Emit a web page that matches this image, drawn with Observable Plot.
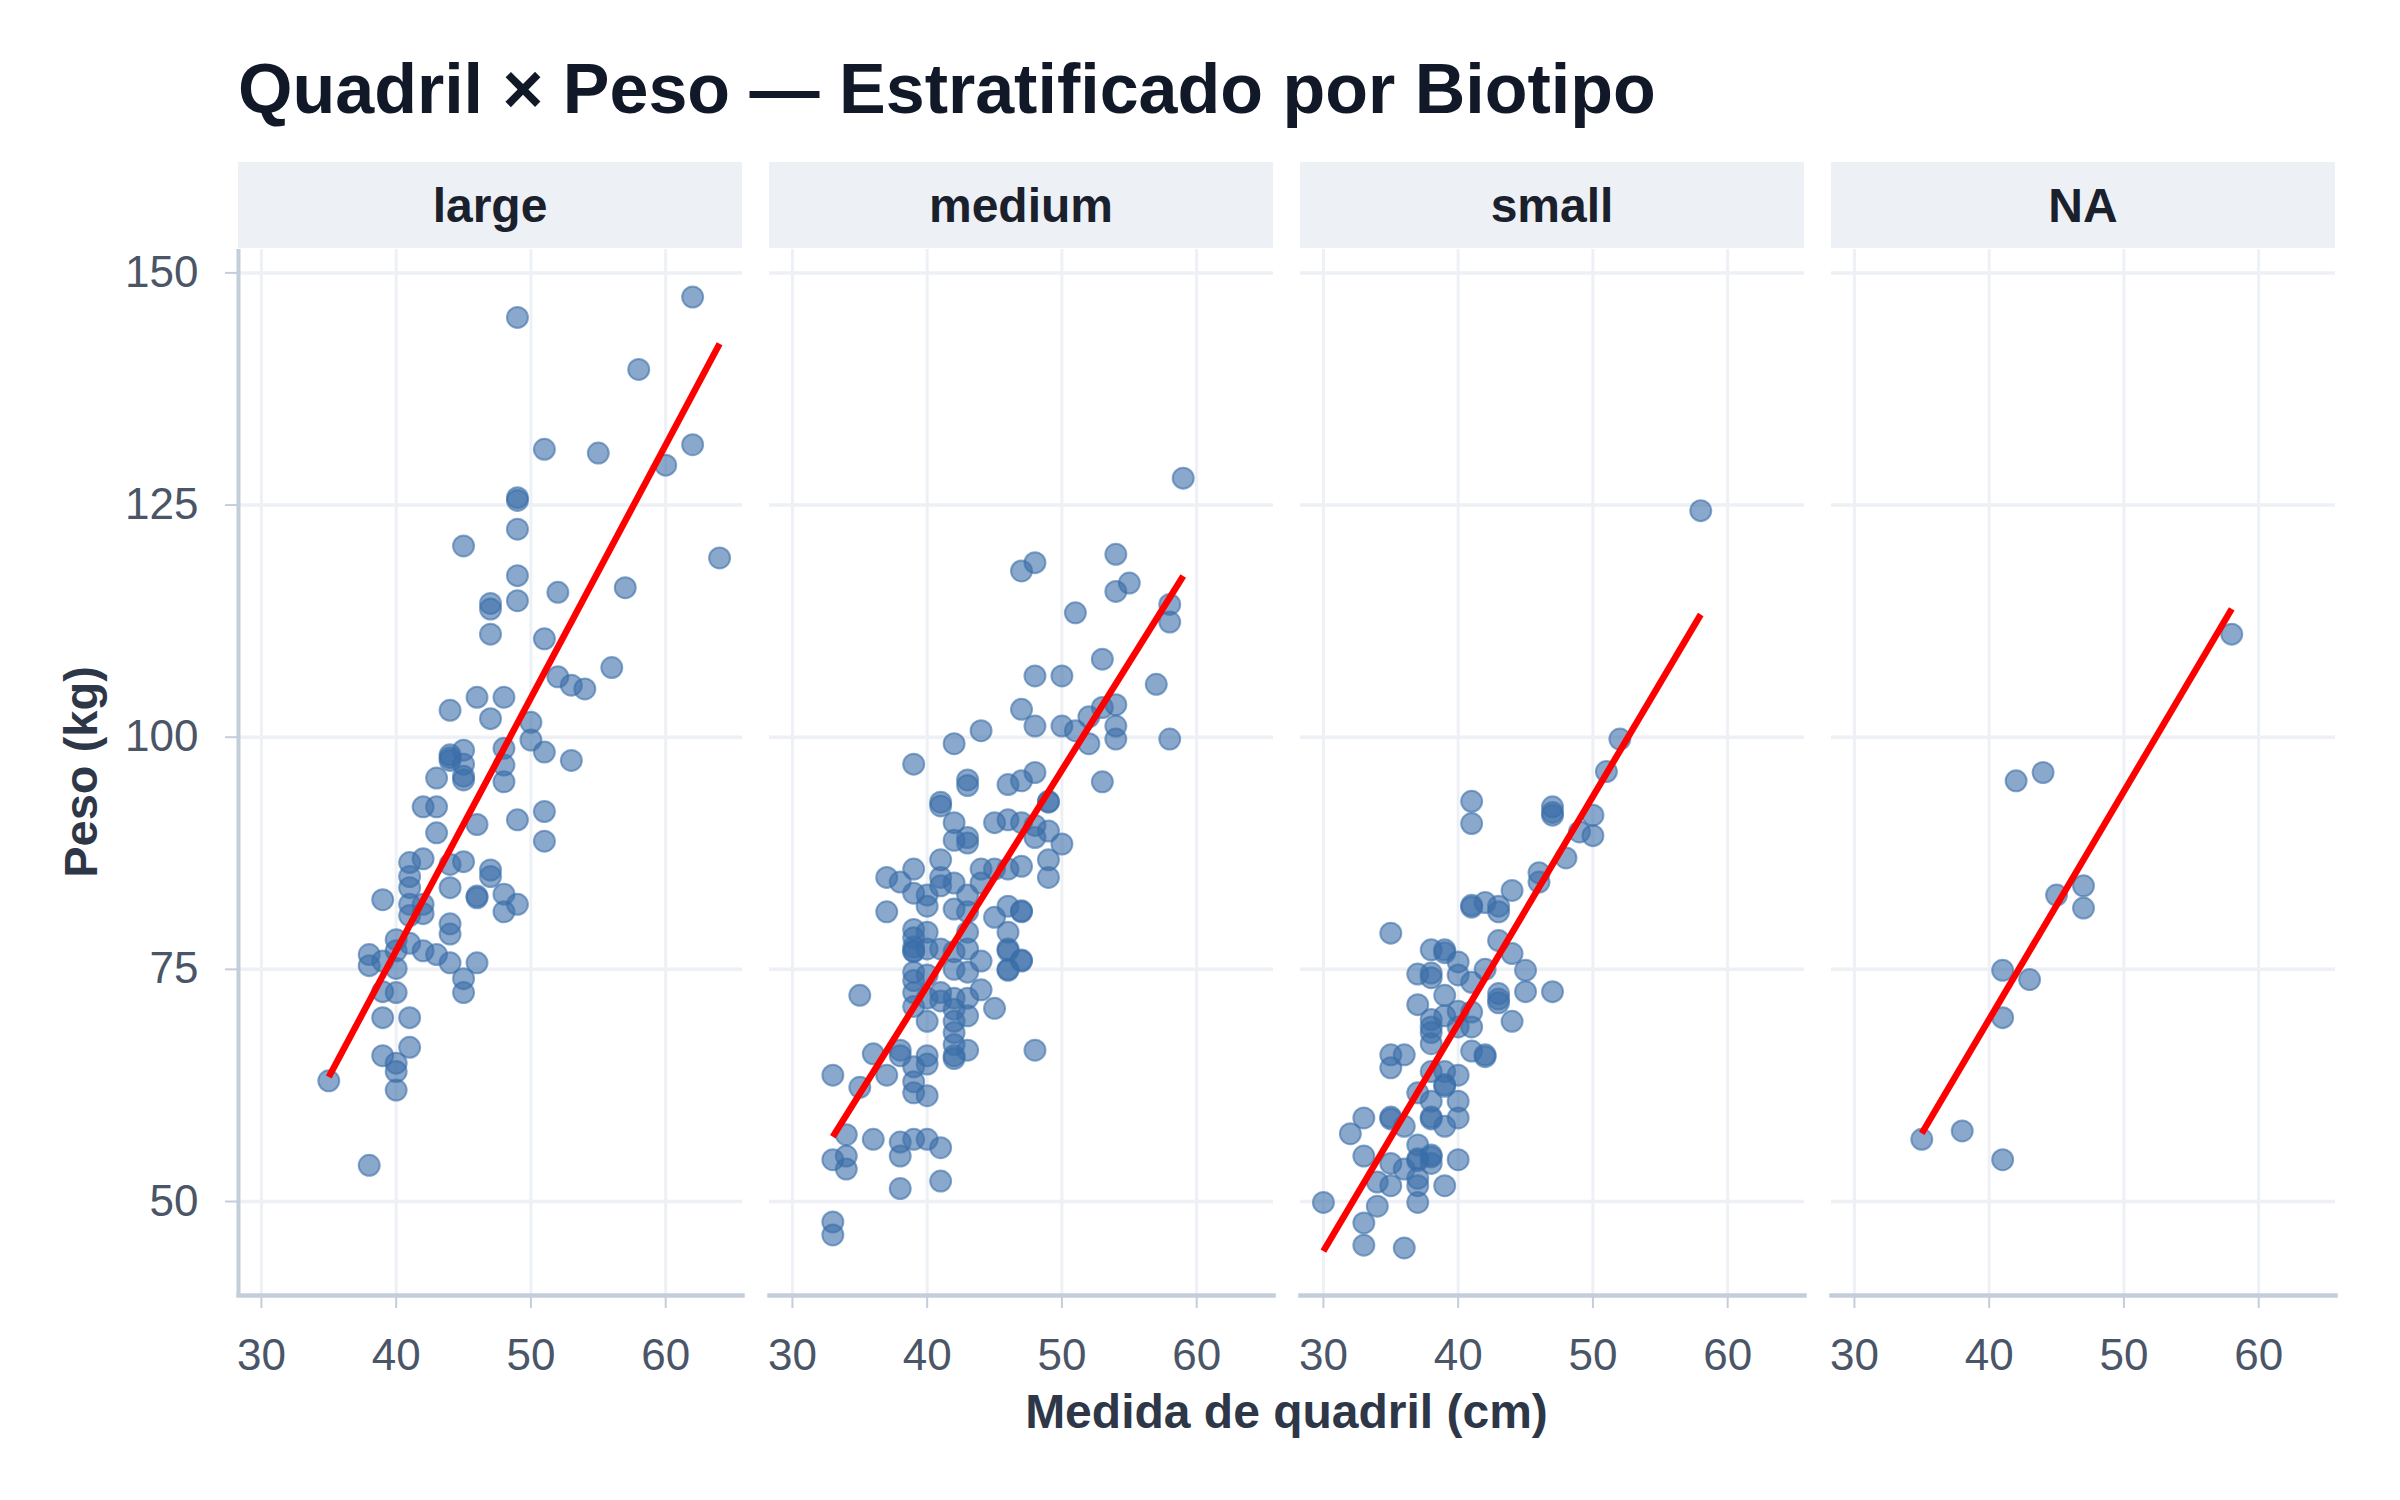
<!DOCTYPE html>
<html>
<head>
<meta charset="utf-8">
<script src="https://cdn.jsdelivr.net/npm/d3@7"></script>
<script src="https://cdn.jsdelivr.net/npm/@observablehq/plot@0.6"></script>
<style>
  html, body { margin: 0; padding: 0; background: #ffffff; }
  #chart { position: relative; width: 2400px; height: 1500px; }
</style>
</head>
<body>
<div id="chart"></div>
<script>
// ---- Data: [hip (cm), weight (kg)] per biotype ----
const groups = ["large", "medium", "small", "NA"];
const xTicks = [30, 40, 50, 60];
const yTicks = [50, 75, 100, 125, 150];

const large = [
  [49,145.2],[62,147.4],[58,139.6],[51,131.0],[55,130.6],[62,131.5],[60,129.3],[49,125.8],[49,125.5],[49,122.4],
  [45,120.6],[64,119.3],[49,117.4],[49,114.7],[47,114.4],[47,113.8],[47,111.1],[52,115.6],[57,116.1],[51,110.6],
  [56,107.5],[52,106.5],[53,105.6],[54,105.2],[44,102.9],[46,104.3],[48,104.3],[47,102.0],[50,101.6],[50,99.7],
  [51,98.4],[53,97.5],[48,98.8],[48,97.0],[48,95.2],[44,97.8],[44,98.1],[44,97.5],[45,98.6],[45,97.1],
  [45,95.8],[45,95.4],[43,95.6],[42,92.5],[43,92.5],[43,89.7],[46,90.6],[49,91.1],[51,92.0],[51,88.8],
  [41,86.5],[42,86.9],[44,86.3],[45,86.6],[47,85.7],[47,85.0],[41,85.0],[41,83.8],[44,83.8],[46,82.7],
  [46,82.9],[48,83.1],[49,82.0],[48,81.2],[39,82.5],[41,82.0],[42,82.0],[41,80.8],[42,81.0],[44,79.9],
  [44,78.8],[40,78.2],[41,77.8],[40,77.0],[42,77.0],[43,76.6],[38,76.6],[38,75.4],[39,75.9],[40,75.1],
  [44,75.7],[46,75.7],[45,74.0],[45,72.5],[39,72.6],[40,72.5],[39,69.8],[41,69.8],[41,66.6],[39,65.7],
  [40,64.9],[40,64.0],[40,62.0],[35,63.0],[38,53.9]
];

const medium = [
  [59,127.9],[47,117.9],[48,118.8],[54,119.7],[54,115.7],[55,116.6],[51,113.4],[58,114.3],[58,112.4],[53,108.4],
  [48,106.6],[50,106.6],[57,105.7],[47,103.0],[48,101.2],[50,101.2],[51,100.7],[52,102.2],[53,103.2],[54,103.5],
  [54,101.2],[54,99.8],[52,99.3],[58,99.8],[44,100.7],[42,99.3],[39,97.1],[53,95.2],[48,96.2],[47,95.3],
  [46,94.9],[43,95.4],[43,94.8],[41,93.0],[41,92.6],[49,93.1],[49,93.0],[42,90.8],[45,90.8],[46,91.1],
  [47,90.8],[48,90.5],[49,89.9],[50,88.5],[48,89.2],[43,89.2],[43,88.6],[42,88.9],[41,86.8],[37,84.9],
  [38,84.4],[39,85.8],[39,83.2],[41,84.9],[41,84.0],[42,84.3],[40,83.0],[40,81.8],[37,81.2],[42,81.5],
  [43,83.0],[44,85.8],[44,84.3],[45,85.8],[45,80.6],[46,85.8],[46,81.8],[47,86.1],[47,81.2],[47,81.3],
  [49,86.8],[49,84.9],[43,81.2],[43,79.0],[46,79.0],[39,79.3],[39,78.4],[39,77.4],[39,77.0],[39,76.9],
  [40,79.0],[40,77.2],[41,77.2],[42,76.9],[43,77.2],[46,77.2],[46,77.0],[47,75.9],[47,76.0],[46,75.0],
  [46,74.9],[44,75.9],[42,75.0],[43,74.7],[39,74.7],[39,73.8],[39,72.5],[39,71.0],[40,74.4],[40,71.9],
  [40,69.4],[41,72.5],[41,71.6],[42,71.9],[42,70.7],[42,69.4],[42,68.2],[42,66.9],[42,65.7],[42,65.4],
  [43,71.9],[43,70.0],[44,72.8],[45,70.8],[43,66.3],[48,66.3],[35,72.2],[36,65.9],[38,66.3],[38,65.7],
  [39,64.5],[39,62.9],[39,61.7],[40,65.7],[40,64.8],[40,61.4],[37,63.6],[35,62.3],[33,63.6],[34,57.2],
  [36,56.7],[38,56.4],[39,56.7],[40,56.7],[41,55.8],[33,54.5],[34,54.9],[34,53.5],[38,54.9],[38,51.4],
  [41,52.2],[33,47.8],[33,46.4]
];

const small = [
  [58,124.4],[52,99.8],[51,96.3],[41,93.1],[41,90.7],[47,92.5],[47,91.9],[47,91.6],[50,91.6],[49,89.8],
  [50,89.4],[48,87.0],[46,85.4],[46,84.4],[44,83.5],[41,81.9],[41,81.7],[42,82.2],[43,81.8],[43,81.2],
  [35,78.9],[43,78.1],[44,76.7],[38,77.1],[39,77.1],[39,76.8],[40,75.8],[42,75.0],[45,74.9],[37,74.5],
  [38,74.6],[38,74.1],[40,74.4],[41,73.6],[39,72.2],[43,72.4],[43,71.8],[43,71.4],[45,72.6],[47,72.6],
  [37,71.2],[44,69.4],[38,69.6],[38,68.8],[38,68.2],[38,67.0],[39,70.0],[40,70.5],[40,68.8],[41,70.4],
  [41,68.8],[35,65.8],[35,64.4],[36,65.8],[41,66.2],[42,65.8],[42,65.6],[38,64.0],[39,64.0],[40,63.6],
  [39,62.6],[39,62.4],[37,61.7],[40,60.8],[38,60.8],[33,59.0],[32,57.3],[35,59.1],[35,58.9],[36,58.1],
  [38,59.1],[38,58.9],[39,58.1],[40,59.0],[33,54.9],[35,54.1],[36,53.5],[37,56.1],[37,54.6],[37,54.4],
  [38,55.0],[38,54.8],[38,54.1],[40,54.5],[34,52.1],[35,51.7],[37,52.5],[37,51.7],[39,51.7],[30,49.9],
  [34,49.5],[37,49.9],[33,47.7],[33,45.3],[36,45.0]
];

const naGroup = [
  [58,111.1],[42,95.3],[44,96.2],[45,83.0],[47,84.0],[47,81.6],[41,74.9],[43,73.9],[41,69.8],[35,56.7],
  [38,57.6],[41,54.5]
];

// ---- Build the table Plot needs ----
const sets = {large, medium, small, NA: naGroup};
const rows = groups.flatMap(g => sets[g].map(([hip, peso]) => ({biotipo: g, hip, peso})));

const W = 2400, H = 1500;
const fontFamily = "'Liberation Sans', Arial, Helvetica, sans-serif";
const axisLineColor = "#c4cedb";
const gridColor = "#edf0f5";
const tickTextColor = "#4a5568";
const pointColor = "#3a6ea8";

const xDomain = [28.3, 65.7];
const yDomain = [39.88, 152.52];

const plot = Plot.plot({
  width: W,
  height: H,
  marginTop: 249,
  marginBottom: 205,
  marginLeft: 237,
  marginRight: 63,
  style: {fontFamily, background: "#ffffff", overflow: "visible"},
  fx: {domain: groups, paddingInner: 0.0504, paddingOuter: 0, axis: null, label: null},
  x: {domain: xDomain, label: null},
  y: {domain: yDomain, label: null},
  marks: [
    Plot.gridX(xTicks, {stroke: gridColor, strokeOpacity: 1, strokeWidth: 3}),
    Plot.gridY(yTicks, {stroke: gridColor, strokeOpacity: 1, strokeWidth: 3.5}),
    Plot.frame({anchor: "bottom", stroke: axisLineColor, strokeWidth: 4.5}),
    Plot.ruleX([groups[0]], {fx: d => d, x: xDomain[0], stroke: axisLineColor, strokeWidth: 4}),
    Plot.dot(rows, {
      x: "hip", y: "peso", fx: "biotipo",
      r: 10.5, fill: pointColor, fillOpacity: 0.6,
      stroke: pointColor, strokeOpacity: 0.6, strokeWidth: 2
    }),
    Plot.linearRegressionY(rows, {
      x: "hip", y: "peso", fx: "biotipo",
      stroke: "#ff0000", strokeWidth: 6.5, strokeLinecap: "butt", ci: 0
    }),
    Plot.axisX(xTicks, {
      tickSize: 13, tickPadding: 30, fontSize: 44,
      stroke: axisLineColor, strokeWidth: 2, color: tickTextColor, fill: tickTextColor, label: null
    }),
    Plot.axisY(yTicks, {
      tickSize: 13, tickPadding: 27, fontSize: 44,
      stroke: axisLineColor, strokeWidth: 2, color: tickTextColor, fill: tickTextColor, label: null
    })
  ]
});

document.getElementById("chart").appendChild(plot);

// ---- Decorations positioned from Plot's own facet scale ----
const svg = d3.select(plot);
const fx = plot.scale("fx");
const bw = fx.bandwidth;
const strips = svg.append("g");
groups.forEach(g => {
  const x0 = fx.apply(g);
  strips.append("rect")
    .attr("x", x0).attr("y", 162).attr("width", bw).attr("height", 86)
    .attr("fill", "#edf0f5");
  strips.append("text")
    .attr("x", x0 + bw / 2).attr("y", 222)
    .attr("text-anchor", "middle")
    .attr("font-family", fontFamily).attr("font-weight", "bold").attr("font-size", 48)
    .attr("fill", "#1a202c")
    .text(g);
});

// Title
svg.append("text")
  .attr("x", 238).attr("y", 113)
  .attr("text-anchor", "start")
  .attr("font-family", fontFamily).attr("font-weight", "bold").attr("font-size", 70)
  .attr("fill", "#111827")
  .text("Quadril × Peso — Estratificado por Biotipo");

// Axis titles
const first = fx.apply(groups[0]);
const last = fx.apply(groups[groups.length - 1]) + bw;
svg.append("text")
  .attr("x", (first + last) / 2).attr("y", 1428)
  .attr("text-anchor", "middle")
  .attr("font-family", fontFamily).attr("font-weight", "bold").attr("font-size", 48)
  .attr("fill", "#2d3748")
  .text("Medida de quadril (cm)");

svg.append("text")
  .attr("transform", `translate(97, ${(249 + 1295) / 2}) rotate(-90)`)
  .attr("text-anchor", "middle")
  .attr("font-family", fontFamily).attr("font-weight", "bold").attr("font-size", 47)
  .attr("fill", "#2d3748")
  .text("Peso (kg)");
</script>
</body>
</html>
